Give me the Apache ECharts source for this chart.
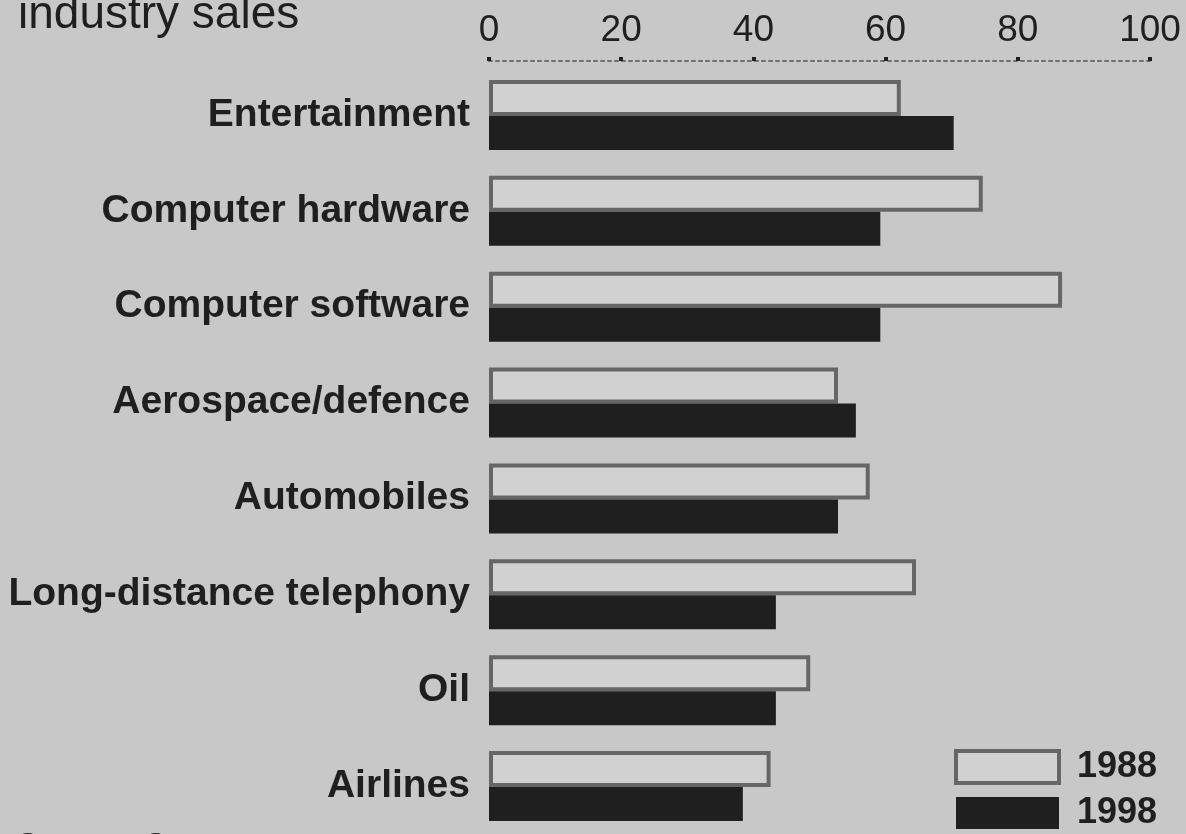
<!DOCTYPE html>
<html>
<head>
<meta charset="utf-8">
<script src="https://cdn.jsdelivr.net/npm/echarts@6/dist/echarts.min.js"></script>
<style>
  html, body { margin: 0; padding: 0; background: #c8c8c8; }
  #chart { width: 1186px; height: 834px; }
</style>
</head>
<body>
<div id="chart"></div>
<script>
// Industries, top to bottom
const industries = [
  'Entertainment',
  'Computer hardware',
  'Computer software',
  'Aerospace/defence',
  'Automobiles',
  'Long-distance telephony',
  'Oil',
  'Airlines'
];

// Share of industry sales, %
const sales1988 = [62.3, 74.7, 86.7, 52.8, 57.6, 64.6, 48.6, 42.6];
const sales1998 = [70.3, 59.2, 59.2, 55.5, 52.8, 43.4, 43.4, 38.4];

const xTicks = [0, 20, 40, 60, 80, 100];

const FONT = '"Liberation Sans", Arial, sans-serif';
const INK = '#1f1f1f';

const chart = echarts.init(document.getElementById('chart'), null, { renderer: 'canvas' });

chart.setOption({
  backgroundColor: '#c8c8c8',
  animation: false,
  grid: { left: 489, right: 36, top: 67, bottom: 0, containLabel: false },
  xAxis: {
    type: 'value',
    position: 'top',
    min: xTicks[0],
    max: xTicks[xTicks.length - 1],
    interval: 20,
    offset: 6,
    axisLine: { show: true, lineStyle: { color: '#6e6e6e', width: 2, type: [3, 4] } },
    axisTick: { show: true, length: 4, lineStyle: { color: INK, width: 4 } },
    splitLine: { show: false },
    axisLabel: { color: INK, fontFamily: FONT, fontSize: 37, margin: 12 }
  },
  yAxis: {
    type: 'category',
    inverse: true,
    data: industries,
    axisLine: { show: false },
    axisTick: { show: false },
    axisLabel: { color: INK, fontFamily: FONT, fontSize: 39, fontWeight: 'bold', margin: 19 }
  },
  legend: {
    orient: 'vertical',
    left: 954,
    top: 748,
    width: 232,
    height: 120,
    padding: 0,
    itemWidth: 103,
    itemHeight: 32,
    itemGap: 8,
    icon: 'rect',
    textStyle: {
      color: INK, fontFamily: FONT, fontSize: 36, fontWeight: 'bold',
      lineHeight: 32, padding: [6, 0, 0, 13]
    },
    data: [
      { name: '1988', itemStyle: { color: '#d1d1d1', borderColor: '#666666', borderWidth: 4 } },
      { name: '1998', itemStyle: { color: '#1f1f1f', borderWidth: 0 } }
    ]
  },
  series: [
    {
      name: '1988',
      type: 'bar',
      data: sales1988,
      barWidth: 36,
      barGap: '0%',
      itemStyle: { color: '#d1d1d1', borderColor: '#666666', borderWidth: 4 }
    },
    {
      name: '1998',
      type: 'bar',
      data: sales1998,
      barWidth: 34,
      barGap: '0%',
      itemStyle: { color: '#1f1f1f' }
    }
  ],
  graphic: [
    {
      type: 'text', x: 18, y: -8,
      style: { text: 'industry sales', fill: INK, font: '46px ' + FONT, verticalAlign: 'top' }
    },
    {
      type: 'text', x: 16, y: 830,
      style: { text: 'Source: Compustat', fill: INK, font: '34px ' + FONT, verticalAlign: 'top' }
    }
  ]
});
</script>
</body>
</html>
